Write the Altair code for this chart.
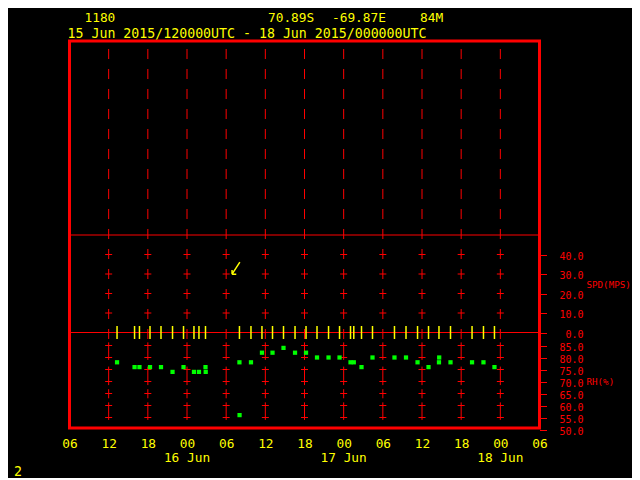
import altair as alt
import pandas as pd

MONO = "DejaVu Sans Mono"
RED = "#ff0000"
YELLOW = "#ffff00"
GREEN = "#00ff00"

# ---------------- data ----------------
tick_times = [
    "2015-06-15T06:00:00Z", "2015-06-15T12:00:00Z", "2015-06-15T18:00:00Z",
    "2015-06-16T00:00:00Z", "2015-06-16T06:00:00Z", "2015-06-16T12:00:00Z",
    "2015-06-16T18:00:00Z", "2015-06-17T00:00:00Z", "2015-06-17T06:00:00Z",
    "2015-06-17T12:00:00Z", "2015-06-17T18:00:00Z", "2015-06-18T00:00:00Z",
    "2015-06-18T06:00:00Z",
]
date_label_times = ["2015-06-16T00:00:00Z", "2015-06-17T00:00:00Z", "2015-06-18T00:00:00Z"]
date_labels = ["16 Jun", "17 Jun", "18 Jun"]
wind_levels = [10, 20, 30, 40]
wind_axis_values = [0, 10, 20, 30, 40]
rh_levels = [55, 60, 65, 70, 75, 80, 85]
rh_axis_values = [50, 55, 60, 65, 70, 75, 80, 85]
wind_panel_lines = [0, 50]
rh_grid_top = [86.3, 76.2, 66.8, 61.3]
rh_grid_bottom = [79.0, 68.5, 63.0, 54.0]

# observation times (yellow markers on the zero line)
obs_times = [
    "2015-06-15T13:17:00Z", "2015-06-15T15:58:00Z", "2015-06-15T16:43:00Z",
    "2015-06-15T18:20:00Z", "2015-06-15T20:01:00Z", "2015-06-15T21:47:00Z",
    "2015-06-15T23:28:00Z", "2015-06-16T01:04:00Z", "2015-06-16T01:50:00Z",
    "2015-06-16T02:50:00Z", "2015-06-16T08:02:00Z", "2015-06-16T09:48:00Z",
    "2015-06-16T11:29:00Z", "2015-06-16T13:06:00Z", "2015-06-16T14:47:00Z",
    "2015-06-16T16:33:00Z", "2015-06-16T18:14:00Z", "2015-06-16T19:55:00Z",
    "2015-06-16T21:41:00Z", "2015-06-16T23:22:00Z", "2015-06-17T01:03:00Z",
    "2015-06-17T01:33:00Z", "2015-06-17T02:44:00Z", "2015-06-17T04:25:00Z",
    "2015-06-17T07:47:00Z", "2015-06-17T09:33:00Z", "2015-06-17T11:19:00Z",
    "2015-06-17T13:00:00Z", "2015-06-17T14:36:00Z", "2015-06-17T16:22:00Z",
    "2015-06-17T19:40:00Z", "2015-06-17T21:25:00Z", "2015-06-17T23:06:00Z",
]
obs_level = [0] * len(obs_times)

# relative humidity (green squares)
rh_times = [
    "2015-06-15T13:17:00Z", "2015-06-15T15:58:00Z", "2015-06-15T16:43:00Z",
    "2015-06-15T18:20:00Z", "2015-06-15T20:01:00Z", "2015-06-15T21:47:00Z",
    "2015-06-15T23:28:00Z", "2015-06-16T01:04:00Z", "2015-06-16T01:50:00Z",
    "2015-06-16T02:50:00Z", "2015-06-16T02:52:00Z", "2015-06-16T08:02:00Z",
    "2015-06-16T08:03:00Z", "2015-06-16T09:48:00Z", "2015-06-16T11:29:00Z",
    "2015-06-16T13:06:00Z", "2015-06-16T14:47:00Z", "2015-06-16T16:33:00Z",
    "2015-06-16T18:14:00Z", "2015-06-16T19:55:00Z", "2015-06-16T21:41:00Z",
    "2015-06-16T23:22:00Z", "2015-06-17T01:03:00Z", "2015-06-17T01:33:00Z",
    "2015-06-17T02:44:00Z", "2015-06-17T04:25:00Z", "2015-06-17T07:47:00Z",
    "2015-06-17T09:33:00Z", "2015-06-17T11:19:00Z", "2015-06-17T13:00:00Z",
    "2015-06-17T14:36:00Z", "2015-06-17T14:38:00Z", "2015-06-17T16:22:00Z",
    "2015-06-17T19:40:00Z", "2015-06-17T21:25:00Z", "2015-06-17T23:06:00Z",
]
rh_values = [
    78, 76, 76, 76, 76, 74, 76, 74, 74, 76, 74, 78,
    56, 78, 82, 82, 84, 82, 82, 80, 80, 80, 78, 78,
    76, 80, 80, 80, 78, 76, 78, 80, 78, 78, 78, 76,
]

# wind vector
arrow_time = ["2015-06-16T07:30:00Z"]
arrow_speed = [33]

# ---------------- frames ----------------
tick_ms = [int(pd.Timestamp(t).value // 1_000_000) for t in tick_times]
grid_times = tick_times[1:-1]

grid_df = pd.DataFrame({"t": grid_times})
wind_cross_df = pd.DataFrame([{"t": t, "v": v} for t in grid_times for v in wind_levels])
rh_cross_df = pd.DataFrame([{"t": t, "v": v} for t in grid_times for v in rh_levels])
rh_seg_df = pd.DataFrame([{"t": t, "top": a, "bot": b}
                          for t in grid_times for a, b in zip(rh_grid_top, rh_grid_bottom)])
lines_df = pd.DataFrame({"v": wind_panel_lines})
obs_df = pd.DataFrame({"t": obs_times, "v": obs_level})
rh_df = pd.DataFrame({"t": rh_times, "rh": rh_values})
arrow_df = pd.DataFrame({"t": arrow_time, "v": arrow_speed})
date_df = pd.DataFrame({"t": date_label_times, "label": date_labels})
one = pd.DataFrame({"k": [0]})

# ---------------- scales / axes ----------------
xscale = alt.Scale(type="utc", domain=[tick_ms[0], tick_ms[-1]], nice=False)
x_axis = alt.Axis(
    values=tick_ms,
    labelExpr="utcFormat(datum.value, '%H')",
    ticks=False, tickSize=0, domain=False, grid=False,
    labelPadding=9, labelColor=YELLOW, labelFont=MONO, labelFontSize=12.8,
    labelOverlap=False, labelFlush=False, labelBound=False,
    labelBaseline="top", labelAlign="center", title=None,
)


def X(field="t"):
    return alt.X(f"{field}:T", scale=xscale, axis=x_axis)


wind_scale = alt.Scale(domain=[0, 50], range=[291.5, 194], nice=False, zero=False)
rh_scale = alt.Scale(domain=[50, 85], range=[388.5, 304.5], nice=False, zero=False)


def right_axis(values, title, title_y):
    return alt.Axis(
        orient="right", values=values, format=".1f", domain=False, grid=False,
        ticks=True, tickSize=7, tickColor=RED, tickWidth=1,
        labelColor=RED, labelFont=MONO, labelFontSize=10, labelAlign="right",
        labelBaseline="middle", labelPadding=36.5, labelOffset=1.5,
        labelOverlap=False, labelFlush=False, labelBound=False,
        title=title, titleAngle=0, titleAlign="left", titleBaseline="alphabetic",
        titleX=46.5, titleY=title_y, titleColor=RED, titleFont=MONO,
        titleFontSize=9.2, titleFontWeight="normal",
    )


# ---------------- layers ----------------
vgrid = alt.Chart(grid_df).mark_rule(
    color=RED, strokeWidth=1, strokeDash=[10, 10], strokeDashOffset=12
).encode(x=X(), y=alt.value(0), y2=alt.value(298))

rh_grid = alt.Chart(rh_seg_df).mark_rule(color=RED, strokeWidth=1).encode(
    x=X(),
    y=alt.Y("top:Q", scale=rh_scale, axis=None),
    y2="bot:Q",
)

wind_cross = alt.Chart(wind_cross_df).mark_point(
    shape="M-1,0L1,0", size=49, filled=False, color=RED, strokeWidth=1, opacity=1
).encode(x=X(), y=alt.Y("v:Q", scale=wind_scale,
                        axis=right_axis(wind_axis_values, "SPD(MPS)", 246.5)))

rh_cross = alt.Chart(rh_cross_df).mark_point(
    shape="M-1,0L1,0", size=49, filled=False, color=RED, strokeWidth=1, opacity=1
).encode(x=X(), y=alt.Y("v:Q", scale=rh_scale,
                        axis=right_axis(rh_axis_values, "RH(%)", 343.5)))

hlines = alt.Chart(lines_df).mark_rule(color=RED, strokeWidth=1).encode(
    y=alt.Y("v:Q", scale=wind_scale, axis=None)
)

obs = alt.Chart(obs_df).mark_point(
    shape="M0,-1L0,1", size=169, filled=False, color=YELLOW, strokeWidth=1.5, opacity=1
).encode(x=X(), y=alt.Y("v:Q", scale=wind_scale, axis=None))

rh_pts = alt.Chart(rh_df).mark_square(size=18, color=GREEN, opacity=1).encode(
    x=X(), y=alt.Y("rh:Q", scale=rh_scale, axis=None)
)

arrow = alt.Chart(arrow_df).mark_point(
    shape="M0.65,-1L-0.65,1M-0.65,1L-0.65,0.3M-0.65,1L0.05,1",
    size=144, filled=False, color=YELLOW, strokeWidth=1.5, opacity=1
).encode(x=X(), y=alt.Y("v:Q", scale=wind_scale, axis=None))

dates = alt.Chart(date_df).mark_text(
    font=MONO, fontSize=12.8, color=YELLOW, align="center", baseline="alphabetic"
).encode(x=X(), y=alt.value(421), text="label:N")


def label(text, x, y, size=13.25, color=YELLOW, align="left"):
    return alt.Chart(one).mark_text(
        font=MONO, fontSize=size, color=color, align=align, baseline="alphabetic"
    ).encode(x=alt.value(x), y=alt.value(y), text=alt.value(text))


texts = [
    label("1180", 15, -19, size=12.8),
    label("70.89S", 198.5, -19, size=12.8),
    label("-69.87E", 262.5, -19, size=12.8),
    label("84M", 350.5, -19, size=12.8),
    label("15 Jun 2015/120000UTC - 18 Jun 2015/000000UTC", -2, -3.5),
    label("2", -51.5, 435, align="center"),
]

chart = alt.layer(
    vgrid, rh_grid, wind_cross, rh_cross, hlines, obs, rh_pts, arrow, dates, *texts
).resolve_scale(y="independent").properties(
    width=470,
    height=387,
    padding={"left": 61.5, "top": 33, "right": 92.5, "bottom": 50},
    autosize=alt.AutoSizeParams(type="none"),
    background="#000000",
).configure_view(stroke=RED, strokeWidth=3)

chart.save("out.html", embed_options={"renderer": "svg", "actions": False})
